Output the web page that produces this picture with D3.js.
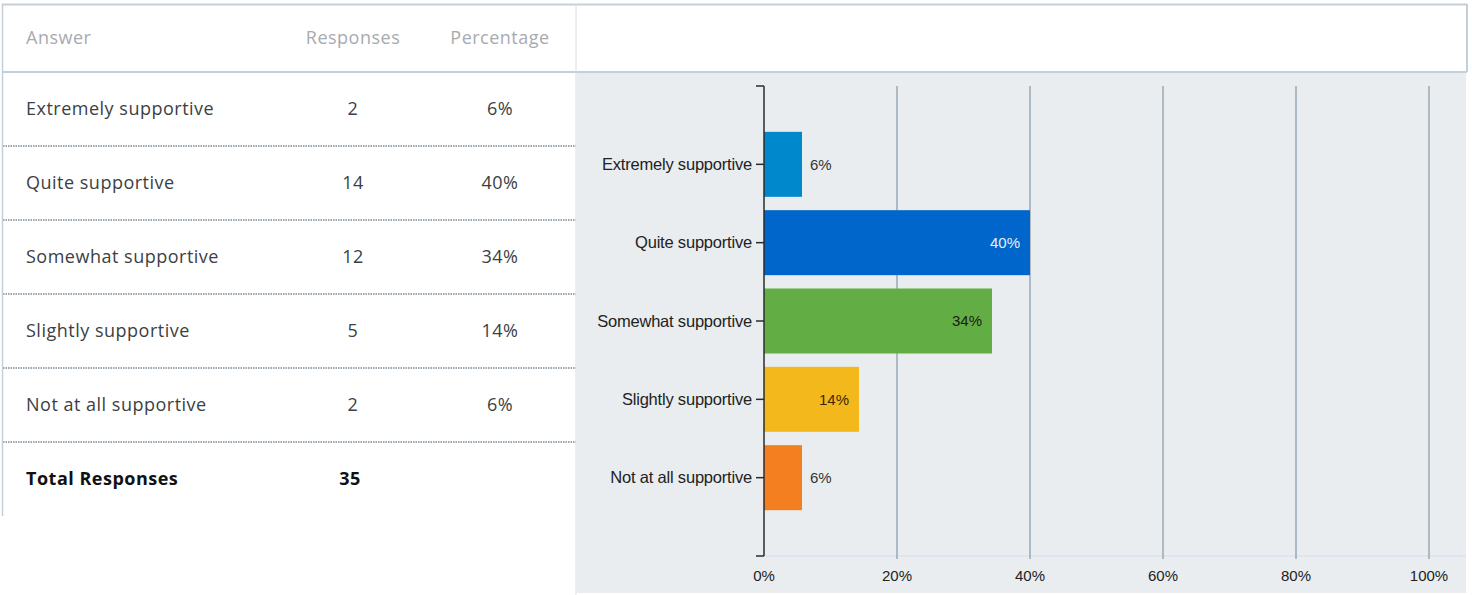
<!DOCTYPE html>
<html>
<head>
<meta charset="utf-8">
<script src="https://cdn.jsdelivr.net/npm/d3@7"></script>
<style>
  body { margin: 0; background: #fff; }
  svg { display: block; }
</style>
</head>
<body>
<div id="chart"></div>
<script>
'use strict';
// survey answers
var answers   = ['Extremely supportive', 'Quite supportive', 'Somewhat supportive', 'Slightly supportive', 'Not at all supportive'],
    responses = [2, 14, 12, 5, 2],
    percents  = ['6%', '40%', '34%', '14%', '6%'],
    total     = 35,
    colors    = ['#0088cc', '#0066cc', '#62ae44', '#f2b81c', '#f47f20'],
    labelInside = [false, true, true, true, false],
    labelColor  = ['#333', '#e8eef4', '#1a1a1a', '#3a2a00', '#333'],
    xTicks    = [0, 0.2, 0.4, 0.6, 0.8, 1],
    headers   = ['Answer', 'Responses', 'Percentage'];

var W = 1472, H = 595,
    tableFont = '"Open Sans", Lato, sans-serif',
    chartFont = '"Liberation Sans", Arial, sans-serif',
    rowH = 74,
    firstRow = 109;

var svg = d3.select('#chart').append('svg')
    .attr('width', W)
    .attr('height', H);

function tableText(sel) {
    sel.style('font-family', tableFont)
        .style('font-size', '18px')
        .style('letter-spacing', '0.5px');
}

// ---------- table on the left ----------
var colX = [26, 353, 500];

svg.append('g').selectAll('text')
    .data(headers)
    .enter().append('text')
    .attr('x', function (d, i) { return colX[i]; })
    .attr('y', 38)
    .attr('dy', '0.35em')
    .attr('text-anchor', function (d, i) { return i === 0 ? 'start' : 'middle'; })
    .call(tableText)
    .style('fill', '#a7abb0')
    .text(function (d) { return d; });

var rows = svg.append('g').selectAll('g')
    .data(answers)
    .enter().append('g')
    .attr('transform', function (d, i) { return 'translate(0,' + (firstRow + i * rowH) + ')'; });

rows.append('text')
    .attr('x', colX[0]).attr('dy', '0.35em')
    .call(tableText).style('fill', '#3b3f44')
    .text(function (d) { return d; });
rows.append('text')
    .attr('x', colX[1]).attr('dy', '0.35em').attr('text-anchor', 'middle')
    .call(tableText).style('fill', '#3b3f44')
    .text(function (d, i) { return responses[i]; });
rows.append('text')
    .attr('x', colX[2]).attr('dy', '0.35em').attr('text-anchor', 'middle')
    .call(tableText).style('fill', '#3b3f44')
    .text(function (d, i) { return percents[i]; });
rows.append('line')
    .attr('x1', 3).attr('x2', 576)
    .attr('y1', 37).attr('y2', 37)
    .style('stroke', '#7a8893')
    .style('stroke-width', 1.5)
    .style('stroke-dasharray', '1.5,1');

var totalY = firstRow + answers.length * rowH;
svg.append('text')
    .attr('x', colX[0]).attr('y', totalY).attr('dy', '0.35em')
    .call(tableText).style('font-weight', 'bold').style('fill', '#111')
    .text('Total Responses');
svg.append('text')
    .attr('x', 350).attr('y', totalY).attr('dy', '0.35em').attr('text-anchor', 'middle')
    .call(tableText).style('font-weight', 'bold').style('fill', '#111')
    .text(total);

// ---------- chart panel ----------
svg.append('rect')
    .attr('x', 577).attr('y', 73)
    .attr('width', 1466 - 577).attr('height', 593 - 73)
    .style('fill', '#e9edf0');

// frame lines
var frame = svg.append('g').style('stroke', '#c4d0d9').style('fill', 'none');
frame.append('line').attr('x1', 2).attr('x2', 1467).attr('y1', 4.5).attr('y2', 4.5).style('stroke-width', 2);
frame.append('line').attr('x1', 2).attr('x2', 1467).attr('y1', 72).attr('y2', 72).style('stroke-width', 2);
frame.append('line').attr('x1', 2.5).attr('x2', 2.5).attr('y1', 4).attr('y2', 516).style('stroke-width', 1.5);
frame.append('line').attr('x1', 576).attr('x2', 576).attr('y1', 4).attr('y2', 595).style('stroke-width', 1).style('stroke', '#d6dee5');
frame.append('line').attr('x1', 1467).attr('x2', 1467).attr('y1', 4).attr('y2', 72).style('stroke-width', 2);

var x = d3.scaleLinear().domain([0, 1]).range([764, 1429]);
var y = d3.scalePoint().domain(answers).range([86, 556]).padding(1);
var plotTop = 86, plotBottom = 556, barH = 65;

// bottom baseline
svg.append('line')
    .attr('x1', 764).attr('x2', 1466)
    .attr('y1', plotBottom).attr('y2', plotBottom)
    .style('stroke', '#d3dfee').style('stroke-width', 1);

// gridlines
svg.append('g').selectAll('line')
    .data(xTicks.slice(1))
    .enter().append('line')
    .attr('x1', function (d) { return x(d); })
    .attr('x2', function (d) { return x(d); })
    .attr('y1', plotTop).attr('y2', plotBottom + 3)
    .style('stroke', '#9aa9b4').style('stroke-width', 1.5);

// x tick labels
svg.append('g').selectAll('text')
    .data(xTicks)
    .enter().append('text')
    .attr('x', function (d) { return x(d); })
    .attr('y', 576).attr('dy', '0.35em')
    .attr('text-anchor', 'middle')
    .style('font-family', chartFont).style('font-size', '15px').style('fill', '#222')
    .text(function (d) { return d3.format('.0%')(d); });

// bars
svg.append('g').selectAll('rect')
    .data(answers)
    .enter().append('rect')
    .attr('x', x(0))
    .attr('y', function (d) { return y(d) - barH / 2; })
    .attr('width', function (d, i) { return x(responses[i] / total) - x(0); })
    .attr('height', barH)
    .style('fill', function (d, i) { return colors[i]; });

// bar value labels
svg.append('g').selectAll('text')
    .data(answers)
    .enter().append('text')
    .attr('x', function (d, i) {
        var end = x(responses[i] / total);
        return labelInside[i] ? end - 10 : end + 8;
    })
    .attr('y', function (d) { return y(d); })
    .attr('dy', '0.35em')
    .attr('text-anchor', function (d, i) { return labelInside[i] ? 'end' : 'start'; })
    .style('font-family', chartFont).style('font-size', '15px')
    .style('fill', function (d, i) { return labelColor[i]; })
    .text(function (d, i) { return percents[i]; });

// y axis
var yAxis = svg.append('g').attr('transform', 'translate(764,0)')
    .style('stroke', '#2b2b2b').style('stroke-width', 1.5);
yAxis.append('line').attr('x1', 0).attr('x2', 0).attr('y1', plotTop).attr('y2', plotBottom);
yAxis.append('line').attr('x1', -8).attr('x2', 0).attr('y1', plotTop).attr('y2', plotTop);
yAxis.append('line').attr('x1', -8).attr('x2', 0).attr('y1', plotBottom).attr('y2', plotBottom);
yAxis.selectAll('line.tick')
    .data(answers)
    .enter().append('line')
    .attr('class', 'tick')
    .attr('x1', -8).attr('x2', 0)
    .attr('y1', function (d) { return y(d); })
    .attr('y2', function (d) { return y(d); });

svg.append('g').selectAll('text')
    .data(answers)
    .enter().append('text')
    .attr('x', 752)
    .attr('y', function (d) { return y(d); })
    .attr('dy', '0.35em')
    .attr('text-anchor', 'end')
    .style('font-family', chartFont).style('font-size', '16.5px').style('fill', '#222')
    .style('letter-spacing', '-0.2px')
    .text(function (d) { return d; });
</script>
</body>
</html>
